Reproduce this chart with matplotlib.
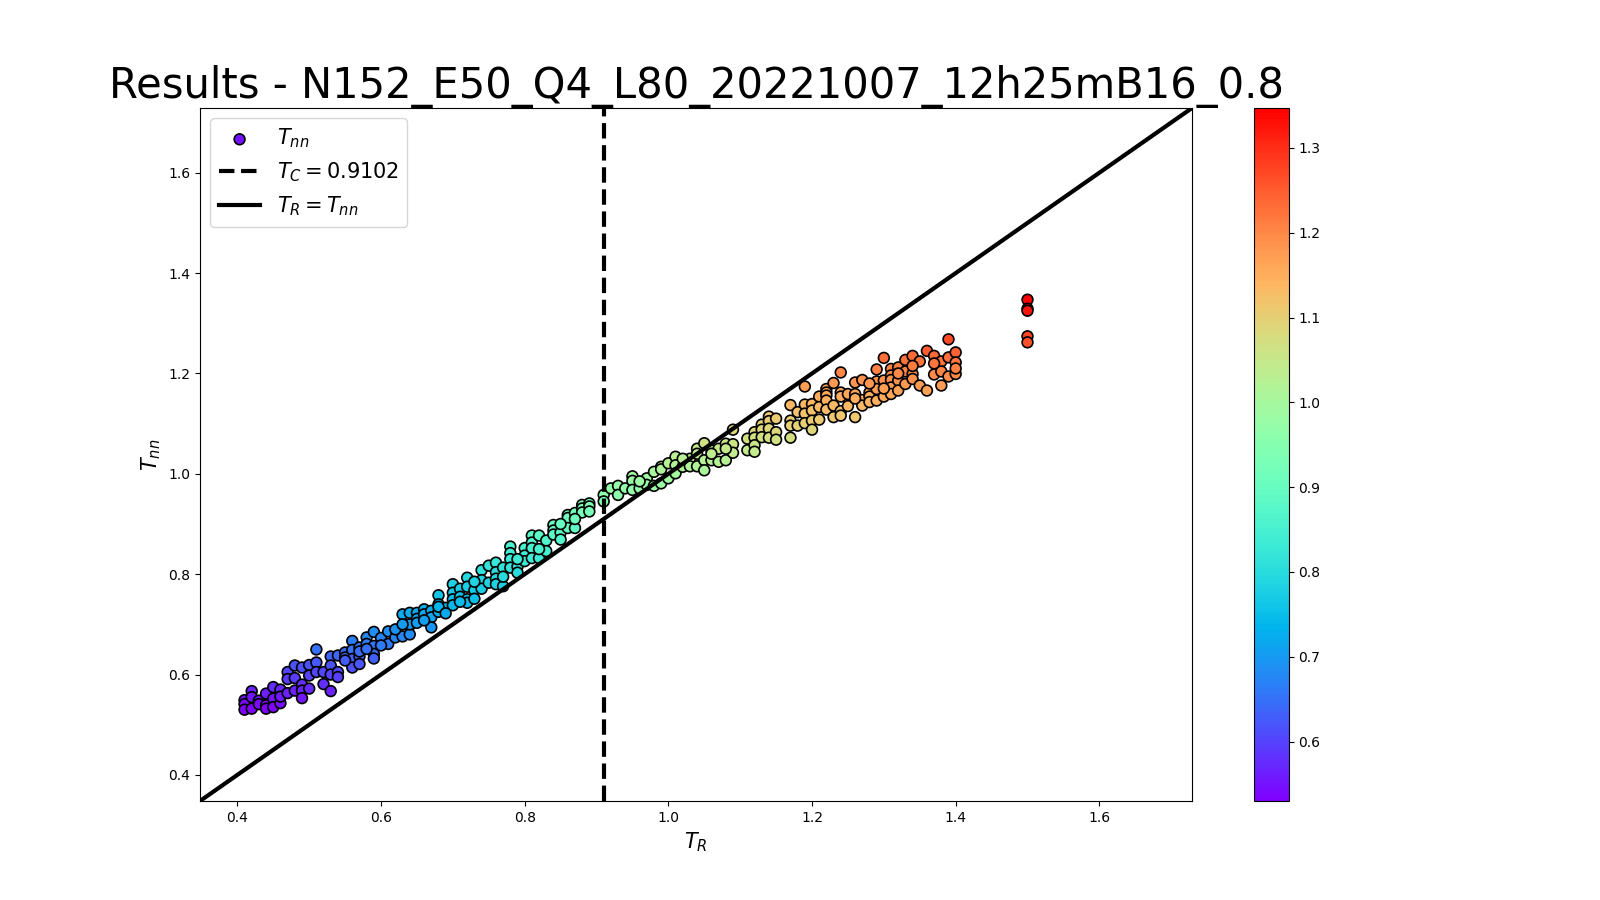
import numpy as np
import matplotlib
matplotlib.use('Agg')
import matplotlib.pyplot as plt

title = 'Results - N152_E50_Q4_L80_20221007_12h25mB16_0.8'
T_c = 0.9102

# one (T_R, T_nn) pair per position, grouped by temperature
T_R = [
    0.41, 0.41, 0.41, 0.42, 0.42, 0.42, 0.43, 0.43, 0.44, 0.44, 0.44, 0.45, 0.45, 0.45, 0.46, 0.46, 0.46,
    0.47, 0.47, 0.47, 0.48, 0.48, 0.48, 0.49, 0.49, 0.49, 0.49, 0.50, 0.50, 0.50, 0.51, 0.51, 0.51,
    0.52, 0.52, 0.53, 0.53, 0.53, 0.53, 0.54, 0.54, 0.54, 0.55, 0.55, 0.56, 0.56, 0.56, 0.56, 0.57, 0.57, 0.57,
    0.58, 0.58, 0.59, 0.59, 0.59, 0.59, 0.60, 0.61, 0.61, 0.62, 0.63, 0.63, 0.64, 0.64, 0.64, 0.64, 0.65, 0.65,
    0.66, 0.66, 0.67, 0.67, 0.67, 0.68, 0.68, 0.68, 0.69, 0.70, 0.70, 0.70, 0.70, 0.71, 0.71,
    0.72, 0.72, 0.72, 0.72, 0.73, 0.73, 0.74, 0.74, 0.74, 0.75, 0.75, 0.76, 0.76, 0.76, 0.76, 0.77, 0.77,
    0.78, 0.78, 0.78, 0.78, 0.79, 0.79, 0.80, 0.80, 0.80, 0.81, 0.81, 0.81, 0.81, 0.82, 0.82, 0.83, 0.83,
    0.84, 0.84, 0.84, 0.85, 0.85, 0.86, 0.86, 0.86, 0.87, 0.87, 0.88, 0.88, 0.88, 0.89, 0.89, 0.89, 0.91, 0.91,
    0.92, 0.93, 0.93, 0.94, 0.95, 0.95, 0.95, 0.96, 0.97, 0.97, 0.98, 0.98, 0.99, 0.99, 0.99, 1.00, 1.00,
    1.01, 1.01, 1.01, 1.02, 1.03, 1.03, 1.04, 1.04, 1.04, 1.05, 1.05, 1.05, 1.06, 1.06, 1.07, 1.07, 1.08, 1.08,
    1.09, 1.09, 1.09, 1.11, 1.11, 1.12, 1.12, 1.12, 1.12, 1.13, 1.13, 1.13, 1.14, 1.14, 1.14, 1.14,
    1.15, 1.15, 1.15, 1.17, 1.17, 1.17, 1.17, 1.18, 1.18, 1.19, 1.19, 1.19, 1.19, 1.20, 1.20, 1.20, 1.20,
    1.21, 1.21, 1.21, 1.22, 1.22, 1.22, 1.22, 1.22, 1.23, 1.23, 1.23, 1.24, 1.24, 1.24, 1.24, 1.24,
    1.25, 1.25, 1.26, 1.26, 1.26, 1.27, 1.27, 1.27, 1.28, 1.28, 1.28, 1.29, 1.29, 1.29, 1.29,
    1.30, 1.30, 1.30, 1.31, 1.31, 1.31, 1.31, 1.31, 1.32, 1.32, 1.32, 1.33, 1.33, 1.33,
    1.34, 1.34, 1.34, 1.35, 1.35, 1.36, 1.36, 1.37, 1.37, 1.38, 1.38, 1.38, 1.39, 1.39, 1.39,
    1.40, 1.40, 1.40, 1.50, 1.50, 1.50, 1.50, 1.50,
    0.55, 0.57, 0.58, 0.60, 0.62, 0.63, 0.65, 0.66, 0.68, 0.69, 0.71, 0.73, 0.77, 0.79, 0.82, 0.85, 0.87,
    0.96, 1.02, 1.06, 1.08, 1.26, 1.28, 1.30, 1.32, 1.34, 1.37, 1.40,
]
T_nn = [
    0.549, 0.541, 0.530, 0.567, 0.555, 0.532, 0.548, 0.541, 0.562, 0.539, 0.532, 0.575, 0.552, 0.535, 0.570, 0.543, 0.556,
    0.605, 0.591, 0.563, 0.618, 0.593, 0.568, 0.614, 0.580, 0.568, 0.553, 0.619, 0.598, 0.572, 0.650, 0.624, 0.605,
    0.605, 0.581, 0.636, 0.618, 0.600, 0.567, 0.638, 0.605, 0.595, 0.644, 0.634, 0.667, 0.649, 0.631, 0.614, 0.654, 0.636, 0.621,
    0.674, 0.661, 0.685, 0.657, 0.641, 0.632, 0.673, 0.686, 0.661, 0.674, 0.720, 0.676, 0.723, 0.698, 0.680, 0.700, 0.723, 0.711,
    0.730, 0.720, 0.727, 0.714, 0.694, 0.758, 0.740, 0.725, 0.733, 0.780, 0.763, 0.750, 0.738, 0.771, 0.755,
    0.793, 0.775, 0.750, 0.743, 0.768, 0.751, 0.808, 0.788, 0.771, 0.817, 0.783, 0.823, 0.804, 0.791, 0.780, 0.813, 0.776,
    0.855, 0.842, 0.830, 0.813, 0.815, 0.803, 0.852, 0.837, 0.826, 0.877, 0.863, 0.852, 0.832, 0.877, 0.832, 0.867, 0.846,
    0.898, 0.887, 0.879, 0.883, 0.869, 0.918, 0.912, 0.892, 0.922, 0.892, 0.938, 0.931, 0.923, 0.941, 0.935, 0.925, 0.958, 0.945,
    0.971, 0.976, 0.958, 0.971, 0.995, 0.986, 0.968, 0.971, 0.991, 0.978, 1.004, 0.976, 1.014, 1.009, 0.981, 1.021, 0.991,
    1.034, 1.017, 1.001, 1.014, 1.030, 1.015, 1.050, 1.040, 1.015, 1.061, 1.027, 1.007, 1.047, 1.027, 1.050, 1.024, 1.060, 1.027,
    1.088, 1.059, 1.042, 1.070, 1.047, 1.083, 1.072, 1.057, 1.044, 1.098, 1.088, 1.073, 1.114, 1.105, 1.090, 1.072,
    1.110, 1.083, 1.068, 1.137, 1.106, 1.096, 1.072, 1.123, 1.096, 1.174, 1.138, 1.120, 1.101, 1.139, 1.126, 1.106, 1.088,
    1.154, 1.133, 1.108, 1.169, 1.162, 1.156, 1.146, 1.128, 1.181, 1.136, 1.113, 1.202, 1.162, 1.154, 1.125, 1.116,
    1.159, 1.135, 1.182, 1.159, 1.113, 1.187, 1.147, 1.136, 1.162, 1.154, 1.143, 1.208, 1.184, 1.169, 1.146,
    1.231, 1.186, 1.154, 1.209, 1.196, 1.187, 1.172, 1.159, 1.212, 1.186, 1.166, 1.227, 1.204, 1.179,
    1.235, 1.199, 1.189, 1.224, 1.176, 1.245, 1.166, 1.235, 1.198, 1.224, 1.204, 1.176, 1.268, 1.232, 1.194,
    1.242, 1.222, 1.199, 1.347, 1.329, 1.325, 1.274, 1.262,
    0.628, 0.646, 0.651, 0.658, 0.690, 0.700, 0.703, 0.708, 0.735, 0.722, 0.745, 0.785, 0.795, 0.830, 0.850, 0.900, 0.910,
    0.985, 1.030, 1.040, 1.050, 1.150, 1.180, 1.170, 1.200, 1.215, 1.220, 1.210,
]

lims = [0.348, 1.729]

fig = plt.figure(figsize=(16, 9), dpi=100)

plt.scatter(T_R, T_nn, c=T_nn, cmap='rainbow', s=60, edgecolors='k', linewidths=1.2, label=r'$T_{nn}$')
plt.axvline(T_c, color='k', ls='--', lw=3, label=r'$T_C = %.4f$' % T_c)
plt.plot(lims, lims, color='k', lw=3, label=r'$T_R = T_{nn}$')

plt.xlim(lims)
plt.ylim(lims)
plt.colorbar()
plt.xlabel(r'$T_R$', fontsize=15)
plt.ylabel(r'$T_{nn}$', fontsize=15)
plt.title(title, fontsize=30)
plt.legend(loc='upper left', fontsize=15)

plt.savefig('out.png', dpi=100)
